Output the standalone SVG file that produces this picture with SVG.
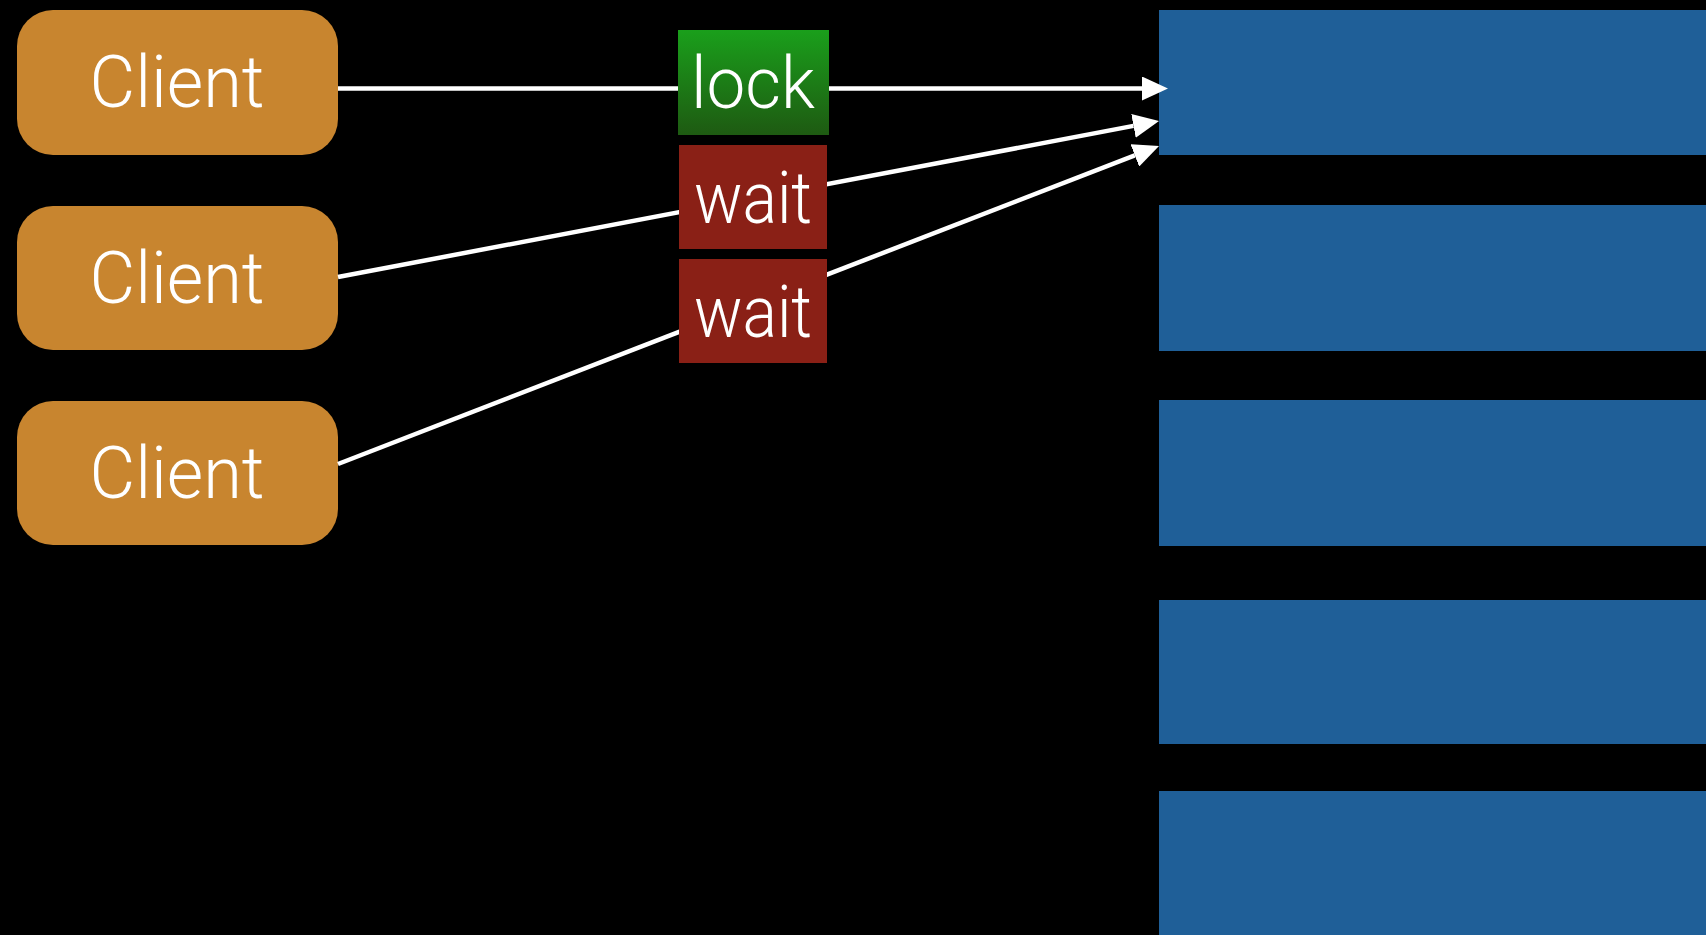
<svg xmlns="http://www.w3.org/2000/svg" width="1706" height="935" viewBox="0 0 1706 935">
  <defs>
    <linearGradient id="lockGrad" x1="0" y1="0" x2="0" y2="1">
      <stop offset="0" stop-color="#1a9f1b"/>
      <stop offset="1" stop-color="#1e5a12"/>
    </linearGradient>
    <marker id="arrow" markerUnits="userSpaceOnUse" markerWidth="26" markerHeight="24" viewBox="0 0 26 24" refX="0" refY="12" orient="auto">
      <path d="M0,0 L26,12 L0,24 z" fill="#ffffff"/>
    </marker>
    <style>
      .client { fill: #c8852f; }
      .slot { fill: #1f5f98; }
      .wait { fill: #8a2016; }
      .lbl { font-family: Roboto, "Liberation Sans", sans-serif; font-weight: 300; font-size: 72px; fill: #ffffff; text-anchor: middle; }
      .conn { stroke: #ffffff; stroke-width: 4.5; fill: none; marker-end: url(#arrow); }
    </style>
  </defs>
  <rect x="0" y="0" width="1706" height="935" fill="#000000"/>

  <g id="slot1"><rect class="slot" x="1159" y="10" width="547" height="145"/></g>
  <g id="slot2"><rect class="slot" x="1159" y="205" width="547" height="146"/></g>
  <g id="slot3"><rect class="slot" x="1159" y="400" width="547" height="146"/></g>
  <g id="slot4"><rect class="slot" x="1159" y="600" width="547" height="144"/></g>
  <g id="slot5"><rect class="slot" x="1159" y="791" width="547" height="144"/></g>

  <g id="client1">
    <rect class="client" x="17" y="10" width="321" height="145" rx="36" ry="36"/>
    <text class="lbl" x="177" y="107" textLength="175" lengthAdjust="spacingAndGlyphs">Client</text>
  </g>
  <g id="client2">
    <rect class="client" x="17" y="206" width="321" height="144" rx="36" ry="36"/>
    <text class="lbl" x="177" y="303" textLength="175" lengthAdjust="spacingAndGlyphs">Client</text>
  </g>
  <g id="client3">
    <rect class="client" x="17" y="401" width="321" height="144" rx="36" ry="36"/>
    <text class="lbl" x="177" y="498" textLength="175" lengthAdjust="spacingAndGlyphs">Client</text>
  </g>

  <g id="connectors">
    <path class="conn" d="M338,88.5 L1142,88.5"/>
    <path class="conn" d="M338,277 L1133.5,125.9"/>
    <path class="conn" d="M338,464 L1134.8,155.4"/>
  </g>

  <g id="lock">
    <rect x="678" y="30" width="151" height="105" fill="url(#lockGrad)"/>
    <text class="lbl" x="753" y="108" textLength="124" lengthAdjust="spacingAndGlyphs">lock</text>
  </g>
  <g id="wait1">
    <rect class="wait" x="679" y="145" width="148" height="104"/>
    <text class="lbl" x="753" y="223" textLength="118" lengthAdjust="spacingAndGlyphs">wait</text>
  </g>
  <g id="wait2">
    <rect class="wait" x="679" y="259" width="148" height="104"/>
    <text class="lbl" x="753" y="337" textLength="118" lengthAdjust="spacingAndGlyphs">wait</text>
  </g>
</svg>
